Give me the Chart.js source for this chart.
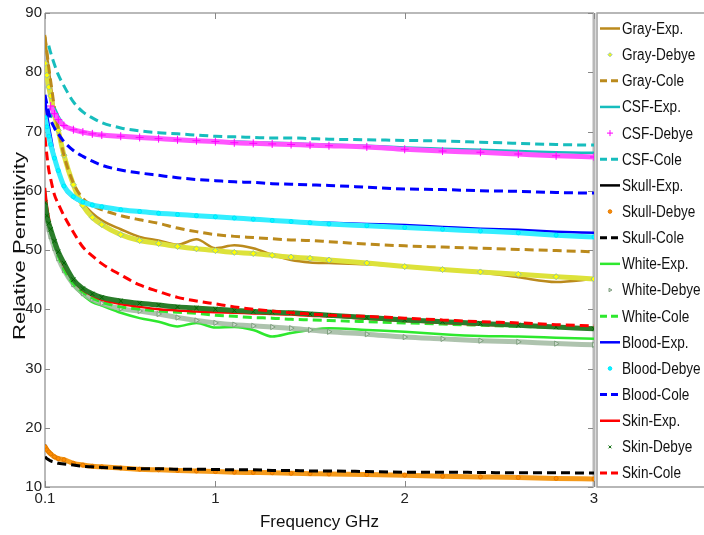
<!DOCTYPE html>
<html>
<head>
<meta charset="utf-8">
<script src="https://cdn.jsdelivr.net/npm/chart.js@4"></script>
<style>
  body { margin: 0; background: #fff; }
  canvas { display: block; }
</style>
</head>
<body>
<canvas id="permChart" width="704" height="535"></canvas>
<script>
// frequency points (GHz) the curves were read at
const freq = [0.1, 0.11, 0.12, 0.13, 0.15, 0.17, 0.2, 0.25, 0.3, 0.35, 0.4, 0.5, 0.6, 0.7, 0.8, 0.9,
              1.0, 1.1, 1.2, 1.3, 1.4, 1.5, 1.6, 1.8, 2.0, 2.2, 2.4, 2.6, 2.8, 3.0];
const xTicks = [0.1, 1, 2, 3];

const grayExp   = [86.3, 83.0, 80.5, 78.0, 73.5, 70.0, 65.8, 61.0, 58.0, 56.2, 55.0, 53.5, 52.2, 51.6, 50.9, 51.8,
                   50.3, 50.8, 50.3, 49.2, 48.3, 47.9, 47.8, 47.6, 47.2, 46.8, 46.2, 45.4, 44.6, 45.1];
const grayDebye = [81.5, 79.5, 77.5, 76.0, 72.8, 70.2, 66.0, 61.0, 57.5, 55.5, 54.3, 52.6, 51.6, 51.1, 50.6, 50.2,
                   49.9, 49.6, 49.4, 49.1, 48.8, 48.6, 48.3, 47.8, 47.2, 46.7, 46.3, 45.9, 45.5, 45.1];
const grayCole  = [86.0, 83.5, 80.8, 78.5, 74.0, 70.5, 66.0, 61.3, 58.7, 57.5, 56.8, 55.8, 55.1, 54.5, 53.7, 53.1,
                   52.6, 52.3, 52.1, 51.9, 51.7, 51.6, 51.4, 51.0, 50.7, 50.5, 50.3, 50.1, 49.9, 49.7];

const csfExp    = [null, null, null, 72.3, 73.9, 72.6, 71.2, 70.3, 69.9, 69.6, 69.4, 69.2, 69.0, 68.8, 68.7, 68.5,
                   68.4, 68.3, 68.2, 68.1, 68.0, 67.9, 67.8, 67.6, 67.3, 67.1, 66.9, 66.7, 66.5, 66.4];
const csfDebye  = [null, null, null, 74.3, 73.0, 72.0, 71.0, 70.3, 69.9, 69.6, 69.4, 69.2, 69.0, 68.8, 68.6, 68.45,
                   68.3, 68.1, 68.0, 67.9, 67.8, 67.7, 67.6, 67.4, 67.0, 66.7, 66.5, 66.2, 65.9, 65.7];
const csfCole   = [null, null, 84.5, 83.3, 81.3, 79.6, 77.7, 75.0, 73.3, 72.3, 71.5, 70.6, 70.1, 69.8, 69.6, 69.4,
                   69.2, 69.1, 69.0, 68.9, 68.9, 68.8, 68.7, 68.6, 68.5, 68.4, 68.2, 68.0, 67.8, 67.7];

const skullExp   = [17.1, 16.5, 16.0, 15.7, 15.2, 14.8, 14.5, 14.0, 13.7, 13.5, 13.4, 13.2, 13.0, 12.9, 12.8, 12.7,
                    12.6, 12.5, 12.45, 12.4, 12.3, 12.25, 12.2, 12.1, 12.0, 11.8, 11.7, 11.6, 11.45, 11.35];
const skullDebye = [16.8, 16.3, 15.9, 15.6, 15.1, 14.8, 14.6, 14.0, 13.7, 13.5, 13.4, 13.2, 13.0, 12.9, 12.8, 12.7,
                    12.6, 12.5, 12.45, 12.4, 12.3, 12.25, 12.2, 12.1, 12.0, 11.8, 11.7, 11.6, 11.45, 11.35];
const skullCole  = [15.1, 14.8, 14.6, 14.4, 14.2, 14.0, 13.9, 13.7, 13.5, 13.4, 13.3, 13.2, 13.1, 13.1, 13.0, 13.0,
                    12.95, 12.9, 12.9, 12.8, 12.8, 12.7, 12.7, 12.6, 12.5, 12.5, 12.45, 12.4, 12.4, 12.35];

const whiteExp   = [60.0, 57.0, 55.0, 53.5, 51.0, 49.0, 46.6, 44.0, 42.4, 41.2, 40.6, 39.4, 38.5, 37.9, 37.1, 37.7,
                    36.9, 37.0, 36.5, 35.4, 36.0, 36.5, 36.8, 36.5, 36.2, 35.8, 35.5, 35.4, 35.2, 35.0];
const whiteDebye = [57.0, 55.0, 53.5, 52.3, 50.3, 48.6, 46.6, 44.2, 42.7, 41.7, 41.0, 40.1, 39.7, 39.2, 38.6, 38.1,
                    37.7, 37.4, 37.2, 37.0, 36.8, 36.5, 36.2, 35.8, 35.3, 35.0, 34.7, 34.5, 34.2, 34.0];
const whiteCole  = [58.5, 56.0, 54.3, 53.0, 50.8, 49.0, 46.8, 44.3, 42.9, 41.9, 41.2, 40.4, 40.0, 39.7, 39.5, 39.3,
                    39.0, 38.8, 38.6, 38.5, 38.3, 38.2, 38.1, 37.9, 37.7, 37.5, 37.3, 37.1, 36.9, 36.8];

const bloodExp   = [75.5, 73.0, 71.0, 69.3, 65.8, 63.5, 60.6, 58.8, 58.0, 57.6, 57.2, 56.8, 56.5, 56.2, 56.0, 55.8,
                    55.6, 55.4, 55.2, 55.0, 54.8, 54.7, 54.6, 54.4, 54.2, 53.9, 53.6, 53.4, 53.1, 52.9];
const bloodDebye = [72.4, 70.8, 69.2, 67.8, 65.5, 63.4, 60.8, 59.0, 58.1, 57.6, 57.3, 56.8, 56.5, 56.2, 56.0, 55.8,
                    55.6, 55.4, 55.2, 55.0, 54.8, 54.6, 54.4, 54.1, 53.8, 53.5, 53.2, 52.9, 52.5, 52.2];
const bloodCole  = [76.2, 74.6, 73.2, 72.0, 70.6, 69.6, 68.3, 66.8, 65.8, 65.0, 64.3, 63.5, 63.0, 62.6, 62.2, 61.9,
                    61.7, 61.5, 61.4, 61.2, 61.1, 61.0, 60.9, 60.6, 60.3, 60.2, 60.0, 59.9, 59.7, 59.6];

const skinExp   = [60.5, 57.5, 55.5, 53.8, 51.5, 49.5, 47.3, 44.8, 43.2, 42.3, 41.6, 40.9, 40.4, 40.0, 39.8, 39.6,
                   39.5, 39.4, 39.3, 39.2, 39.1, 38.9, 38.8, 38.4, 38.0, 37.7, 37.4, 37.2, 37.0, 36.8];
const skinDebye = [58.0, 55.8, 54.5, 53.5, 51.5, 49.7, 47.8, 45.0, 43.5, 42.6, 42.0, 41.4, 41.0, 40.7, 40.4, 40.2,
                   40.0, 39.8, 39.6, 39.5, 39.4, 39.2, 39.0, 38.6, 38.2, 37.9, 37.6, 37.3, 37.0, 36.7];
const skinCole  = [69.0, 66.0, 63.5, 62.0, 59.3, 57.8, 55.8, 53.0, 50.5, 49.0, 47.7, 45.8, 44.1, 43.0, 42.0, 41.4,
                   40.9, 40.4, 40.0, 39.7, 39.4, 39.2, 39.0, 38.8, 38.5, 38.2, 37.9, 37.7, 37.4, 37.2];

const fontFamily = "'Liberation Sans', Arial, sans-serif";

function pairs(values) {
    return freq.map((f, i) => ({ x: f, y: values[i] }));
}

// kind: exp = solid line, cole = dashed line, debye = dense markers
function makeSet(label, values, kind, color, marker) {
    const set = {
        label: label,
        data: pairs(values),
        kind: kind,
        borderColor: color,
        backgroundColor: color,
        fill: false,
        cubicInterpolationMode: 'monotone',
        pointRadius: 0,
        spanGaps: false
    };
    if (kind == 'exp') {
        set.borderWidth = 2.5;
    } else if (kind == 'cole') {
        set.borderWidth = 3;
        set.borderDash = [9, 5];
    } else {
        set.borderColor = marker.line;
        set.borderWidth = 5;
        set.pointRadius = marker.radius;
        set.pointStyle = marker.style;
        set.pointRotation = marker.rotation || 0;
        set.pointBackgroundColor = marker.fill;
        set.pointBorderColor = marker.edge;
        set.pointBorderWidth = 1;
    }
    return set;
}

const brown = '#bb8a1c';
const teal = '#17bdbd';
const lime = '#2ee82e';

const datasets = [
    makeSet('Gray-Exp.', grayExp, 'exp', brown),
    makeSet('Gray-Debye', grayDebye, 'debye', '#ffff00', { line: '#dde23a', style: 'rectRot', radius: 3, fill: '#ffff00', edge: '#8fbcaa' }),
    makeSet('Gray-Cole', grayCole, 'cole', brown),
    makeSet('CSF-Exp.', csfExp, 'exp', teal),
    makeSet('CSF-Debye', csfDebye, 'debye', '#ff00ff', { line: '#ff55ff', style: 'cross', radius: 4, fill: '#ff00ff', edge: '#ff00ff' }),
    makeSet('CSF-Cole', csfCole, 'cole', teal),
    makeSet('Skull-Exp.', skullExp, 'exp', '#000000'),
    makeSet('Skull-Debye', skullDebye, 'debye', '#ff8c00', { line: '#f59a1a', style: 'circle', radius: 2, fill: '#ff8c00', edge: '#e07800' }),
    makeSet('Skull-Cole', skullCole, 'cole', '#000000'),
    makeSet('White-Exp.', whiteExp, 'exp', lime),
    makeSet('White-Debye', whiteDebye, 'debye', '#8fae8f', { line: 'rgba(160,185,160,0.85)', style: 'triangle', rotation: 90, radius: 3, fill: '#d0dcd0', edge: '#7f9f7f' }),
    makeSet('White-Cole', whiteCole, 'cole', lime),
    makeSet('Blood-Exp.', bloodExp, 'exp', '#0000ff'),
    makeSet('Blood-Debye', bloodDebye, 'debye', '#00ffff', { line: '#33eeff', style: 'circle', radius: 2, fill: '#00ffff', edge: '#00e0ff' }),
    makeSet('Blood-Cole', bloodCole, 'cole', '#0000ff'),
    makeSet('Skin-Exp.', skinExp, 'exp', '#ff0000'),
    makeSet('Skin-Debye', skinDebye, 'debye', '#006400', { line: '#2a7d2a', style: 'crossRot', radius: 3, fill: '#006400', edge: '#006400' }),
    makeSet('Skin-Cole', skinCole, 'cole', '#ff0000')
];
// later series sit on top, like the original plot
datasets.forEach((d, i) => { d.order = datasets.length - 1 - i; });

// matlab-style box with inward ticks
const boxPlugin = {
    id: 'boxPlugin',
    beforeDatasetsDraw(chart) {
        const { ctx, chartArea: { top, bottom, left, right }, scales: { x, y } } = chart;
        ctx.save();
        ctx.strokeStyle = '#a3a3a3';
        ctx.lineWidth = 1.5;
        ctx.beginPath();
        ctx.moveTo(left, top);
        ctx.lineTo(right, top);
        ctx.moveTo(left, top);
        ctx.lineTo(left, bottom);
        ctx.lineTo(right, bottom);
        ctx.stroke();
        ctx.lineWidth = 3;
        ctx.strokeStyle = '#b8b8b8';
        ctx.beginPath();
        ctx.moveTo(right, top);
        ctx.lineTo(right, bottom);
        ctx.stroke();

        ctx.strokeStyle = '#888';
        ctx.lineWidth = 1;
        ctx.beginPath();
        y.ticks.forEach(t => {
            const py = Math.round(y.getPixelForValue(t.value)) + 0.5;
            ctx.moveTo(left, py);
            ctx.lineTo(left + 5, py);
            ctx.moveTo(right - 1, py);
            ctx.lineTo(right - 6, py);
        });
        x.ticks.forEach(t => {
            const px = Math.round(x.getPixelForValue(t.value)) + 0.5;
            ctx.moveTo(px, top);
            ctx.lineTo(px, top + 6);
            ctx.moveTo(px, bottom);
            ctx.lineTo(px, bottom - 6);
        });
        ctx.stroke();
        ctx.restore();
    }
};

const legendAndTitles = {
    id: 'legendAndTitles',
    afterDraw(chart) {
        const { ctx, chartArea: { top, bottom, left, right } } = chart;
        ctx.save();

        // legend box
        ctx.strokeStyle = '#a0a0a0';
        ctx.lineWidth = 1.5;
        ctx.beginPath();
        ctx.moveTo(706, top);
        ctx.lineTo(597, top);
        ctx.lineTo(597, bottom);
        ctx.lineTo(706, bottom);
        ctx.stroke();

        const sets = chart.data.datasets;
        const firstY = 28.5;
        const step = 26.15;
        ctx.font = '16px ' + fontFamily;
        ctx.textAlign = 'left';
        ctx.textBaseline = 'middle';
        sets.forEach((d, i) => {
            const ly = firstY + i * step;
            ctx.save();
            if (d.kind == 'debye') {
                ctx.fillStyle = d.pointBackgroundColor;
                ctx.strokeStyle = d.pointBorderColor;
                ctx.lineWidth = 1;
                Chart.helpers.drawPoint(ctx, {
                    pointStyle: d.pointStyle,
                    rotation: d.pointRotation,
                    radius: Math.max(1.8, d.pointRadius - 1),
                    borderWidth: 1
                }, 610, ly);
            } else {
                ctx.strokeStyle = d.backgroundColor;
                ctx.lineWidth = d.kind == 'cole' ? 3 : 2.5;
                if (d.kind == 'cole') ctx.setLineDash([7, 4]);
                ctx.beginPath();
                ctx.moveTo(600, ly);
                ctx.lineTo(620, ly);
                ctx.stroke();
            }
            ctx.restore();
            // the legend text in the original is narrow
            ctx.save();
            ctx.translate(622, ly + 1);
            ctx.scale(0.85, 1);
            ctx.fillStyle = '#111';
            ctx.fillText(d.label, 0, 0);
            ctx.restore();
        });

        // axis titles
        ctx.fillStyle = '#111';
        ctx.font = '17px ' + fontFamily;
        ctx.textAlign = 'center';
        ctx.textBaseline = 'alphabetic';
        ctx.fillText('Frequency GHz', (left + right) / 2, 527);

        ctx.save();
        ctx.translate(25, 246);
        ctx.rotate(-Math.PI / 2);
        ctx.scale(1.3, 1);
        ctx.font = '17px ' + fontFamily;
        ctx.fillText('Relative Permitivity', 0, 0);
        ctx.restore();

        ctx.restore();
    }
};

const config = {
    type: 'line',
    data: { datasets: datasets },
    options: {
        responsive: false,
        animation: false,
        layout: { padding: { top: 13, right: 110, left: 0, bottom: 0 } },
        plugins: {
            legend: { display: false },
            tooltip: { enabled: false }
        },
        scales: {
            x: {
                type: 'linear',
                min: 0.1,
                max: 3,
                afterBuildTicks: s => { s.ticks = xTicks.map(v => ({ value: v })); },
                afterFit: s => { s.height = 48; },
                grid: { display: false, drawTicks: false },
                border: { display: false },
                ticks: {
                    padding: 3,
                    autoSkip: false,
                    maxRotation: 0,
                    color: '#222',
                    font: { size: 15, family: fontFamily },
                    callback: v => String(v)
                }
            },
            y: {
                min: 10,
                max: 90,
                afterFit: s => { s.width = 45; },
                grid: { display: false, drawTicks: false },
                border: { display: false },
                ticks: {
                    stepSize: 10,
                    padding: 3,
                    color: '#222',
                    font: { size: 15, family: fontFamily }
                }
            }
        }
    },
    plugins: [boxPlugin, legendAndTitles]
};

const permChart = new Chart(document.getElementById('permChart'), config);
</script>
</body>
</html>
